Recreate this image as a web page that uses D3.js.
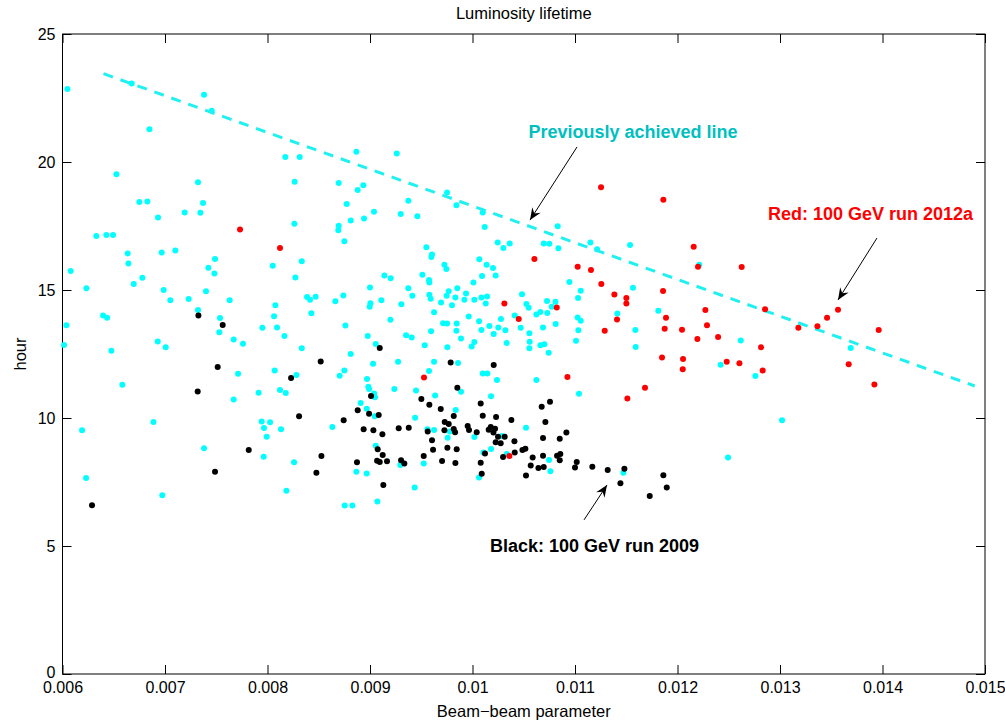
<!DOCTYPE html>
<html>
<head>
<meta charset="utf-8">
<script src="https://cdn.jsdelivr.net/npm/d3@7"></script>
<style>
  html, body { margin: 0; padding: 0; background: #fff; }
  svg text { font-family: "Liberation Sans", Arial, Helvetica, sans-serif; }
</style>
</head>
<body>
<div id="chart"></div>
<script>
// tick values and labels
const xTicks = [0.006, 0.007, 0.008, 0.009, 0.010, 0.011, 0.012, 0.013, 0.014, 0.015];
const xTickLabels = ["0.006", "0.007", "0.008", "0.009", "0.01", "0.011", "0.012", "0.013", "0.014", "0.015"];
const yTicks = [0, 5, 10, 15, 20, 25];
const yTickLabels = ["0", "5", "10", "15", "20", "25"];

// runs from other years (cyan)
const cyanPoints = [
  [0.006048,22.85],[0.006675,23.07],[0.007381,22.63],[0.007456,22.00],[0.006848,21.28],[0.006526,19.52],[0.007322,19.21],
  [0.006750,18.44],[0.006828,18.46],[0.007371,18.40],[0.006932,17.83],[0.007192,18.03],[0.007345,18.02],
  [0.008867,20.40],[0.009261,20.33],[0.008174,20.20],[0.008314,20.20],[0.008265,19.23],[0.008695,19.18],[0.008880,18.91],
  [0.008935,19.09],[0.009752,18.81],[0.009843,18.31],[0.009374,18.49],[0.008773,18.36],[0.009039,18.06],[0.009300,17.97],
  [0.009462,17.88],[0.008942,17.79],[0.008812,17.71],[0.008262,17.59],[0.008695,17.51],[0.008691,17.33],
  [0.010100,18.03],[0.010119,17.46],[0.010831,17.49],
  [0.006330,17.11],[0.006428,17.15],[0.006493,17.15],[0.006636,16.43],[0.006968,16.46],[0.007101,16.54],[0.006643,16.04],
  [0.006080,15.74],[0.007488,16.21],[0.007423,15.87],[0.007482,15.64],[0.006779,15.48],[0.006695,15.23],[0.006233,15.07],
  [0.006987,15.00],[0.007400,14.95],[0.007052,14.60],[0.007231,14.65],[0.007631,14.60],[0.007322,14.22],[0.006396,14.00],
  [0.006435,13.92],[0.007537,13.91],[0.006038,13.62],[0.007530,13.35],[0.007950,13.53],[0.007670,13.07],[0.007761,12.90],
  [0.006929,12.99],[0.006015,12.85],[0.007007,12.76],[0.006477,12.63],[0.007713,11.73],
  [0.008750,16.90],[0.008051,15.95],[0.008334,16.12],[0.008272,15.49],[0.009550,16.67],[0.009605,16.39],[0.009599,16.29],
  [0.009726,15.99],[0.009745,15.82],[0.009140,15.57],[0.009202,15.46],[0.009511,15.60],[0.009576,15.39],[0.009579,15.29],
  [0.009000,15.10],[0.009374,15.07],[0.009413,14.78],[0.009579,14.81],[0.009592,14.66],[0.009768,14.95],[0.009852,15.07],
  [0.009937,14.86],[0.009748,14.78],[0.009833,14.71],[0.009921,14.62],[0.009693,14.51],[0.009800,14.40],[0.008386,14.73],
  [0.008415,14.62],[0.008470,14.74],[0.008740,14.79],[0.008662,14.56],[0.009111,14.60],[0.009004,14.48],[0.008997,14.35],
  [0.009306,14.44],[0.008077,14.40],[0.008064,13.97],[0.008093,13.54],[0.008428,14.09],[0.009625,14.13],[0.009963,13.96],
  [0.009199,13.84],[0.009713,13.70],[0.009752,13.69],[0.009846,13.69],[0.008760,13.61],[0.009596,13.39],[0.009843,13.41],
  [0.008165,13.20],[0.008978,13.20],[0.009352,13.23],[0.009407,13.14],[0.009888,13.11],[0.009056,12.89],[0.009534,12.84],
  [0.009755,12.76],[0.008334,12.72],[0.008812,12.50],[0.009274,12.20],[0.009030,12.12],[0.009625,12.20],[0.009859,12.15],
  [0.008070,11.86],[0.008282,11.68],[0.008750,11.86],[0.008704,11.65],[0.008971,11.52],[0.009576,11.84],
  [0.010246,16.86],[0.010301,16.64],[0.010363,16.82],[0.010695,16.82],[0.010750,16.81],[0.010838,16.63],[0.011150,16.86],
  [0.011215,16.59],[0.011537,16.76],[0.010067,16.20],[0.010138,15.99],[0.010200,15.86],[0.010093,15.55],[0.010226,15.57],
  [0.010009,15.29],[0.010945,15.31],[0.011056,14.97],[0.011030,14.69],[0.011566,15.09],[0.010483,14.83],[0.010018,14.62],
  [0.010087,14.71],[0.010142,14.75],[0.010129,14.47],[0.010526,14.45],[0.010548,14.31],[0.010727,14.57],[0.010809,14.54],
  [0.010773,14.35],[0.010730,14.10],[0.010662,14.14],[0.010623,14.04],[0.010412,14.00],[0.010278,13.87],[0.010064,13.78],
  [0.010165,13.59],[0.010252,13.54],[0.010321,13.43],[0.010470,13.53],[0.010688,13.54],[0.010812,13.67],[0.010087,13.44],
  [0.010207,13.28],[0.010555,13.31],[0.011033,13.43],[0.011026,13.93],[0.011056,13.80],[0.011010,13.02],[0.011413,14.08],
  [0.011589,13.44],[0.011592,12.77],[0.011813,14.19],[0.010018,12.97],[0.009992,12.79],[0.010334,12.93],[0.010558,12.98],
  [0.010555,12.72],[0.010662,12.84],[0.010701,12.88],[0.010743,12.55],[0.010100,11.74],[0.010145,11.74],[0.010239,11.48],
  [0.010623,11.48],
  [0.012213,15.99],[0.012617,13.03],[0.013690,12.73],[0.012421,12.08],[0.012760,11.64],
  [0.006584,11.30],[0.007670,10.72],[0.007914,10.99],[0.006887,9.84],[0.006191,9.52],[0.007943,9.86],[0.007966,9.61],
  [0.007381,8.82],[0.007963,8.49],[0.006230,7.66],[0.006974,6.98],
  [0.008122,11.09],[0.008178,10.98],[0.008025,9.83],[0.008132,9.56],[0.007992,9.27],[0.008633,9.65],[0.008259,8.27],
  [0.008184,7.16],[0.008753,6.58],[0.008828,6.58],[0.009072,6.74],[0.009436,7.29],[0.008867,7.90],[0.008968,7.83],
  [0.009296,8.16],[0.009524,8.22],[0.009758,9.23],[0.009056,8.92],[0.009560,9.56],[0.009625,9.53],[0.009778,9.47],
  [0.009836,10.31],[0.009635,10.88],[0.009449,11.07],[0.009888,11.03],[0.009238,11.13],[0.008984,11.22],[0.008991,11.13],
  [0.009040,10.96],[0.009049,10.81],[0.008909,10.59],[0.008968,10.36],[0.009046,10.07],[0.009440,10.01],
  [0.010181,10.85],[0.011039,10.95],[0.010288,9.30],[0.010018,9.26],[0.010522,9.62],[0.010334,8.59],[0.010106,8.65],
  [0.010181,8.79],[0.010064,7.68],[0.010747,8.36],[0.010760,7.92],[0.011472,7.86],
  [0.013020,9.91],[0.012493,8.46]
];

// 100 GeV run 2009 (black)
const blackPoints = [
  [0.007326,14.00],[0.007563,13.63],[0.007514,11.99],
  [0.009095,12.73],[0.008519,12.21],[0.009787,12.17],[0.008230,11.56],[0.010207,12.07],
  [0.007319,11.04],[0.007817,8.75],[0.007488,7.90],[0.006288,6.59],
  [0.008308,10.07],[0.008743,9.91],[0.008526,8.52],[0.008477,7.86],[0.009130,7.38],[0.008873,8.27],[0.009069,8.33],
  [0.009095,8.28],[0.009166,8.31],[0.009303,8.35],[0.009335,8.22],[0.009524,8.52],[0.009703,8.32],[0.009833,8.24],
  [0.009615,8.76],[0.009755,8.84],[0.009846,8.78],[0.009605,9.13],[0.009075,8.78],[0.009124,8.55],[0.008938,9.56],
  [0.009033,9.52],[0.009121,9.37],[0.009280,9.60],[0.009378,9.62],[0.009563,9.47],[0.009726,9.52],[0.009817,9.57],
  [0.009830,9.44],[0.009729,9.84],[0.009768,9.77],[0.009817,10.08],[0.009690,10.35],[0.009579,10.52],[0.009501,10.74],
  [0.009852,11.18],[0.009010,10.86],[0.008880,10.30],[0.008991,10.17],[0.009085,10.12],[0.009953,9.69],[0.009966,9.53],
  [0.010080,10.57],[0.010675,10.44],[0.010756,10.63],[0.010100,10.09],[0.010230,10.04],[0.010379,9.92],[0.010711,9.84],
  [0.010041,9.44],[0.010158,9.54],[0.010178,9.65],[0.010220,9.58],[0.010204,9.43],[0.010249,9.27],[0.010314,9.27],
  [0.010226,9.05],[0.010275,9.01],[0.010409,9.09],[0.010688,9.22],[0.010851,9.19],[0.010916,9.43],[0.010487,8.75],
  [0.010516,8.80],[0.010412,8.65],[0.010298,8.48],[0.010122,8.61],[0.010080,8.25],[0.010090,7.82],[0.010587,8.46],
  [0.010688,8.53],[0.010825,8.53],[0.010857,8.59],[0.010851,8.35],[0.010568,8.14],[0.010643,8.05],[0.010695,8.09],
  [0.010522,7.75],[0.011017,8.28],[0.011000,8.07],[0.011169,8.10],[0.011319,7.97],[0.011482,8.02],[0.011443,7.45],
  [0.011729,6.95],[0.011862,7.76],[0.011895,7.29]
];

// 100 GeV run 2012a (red)
const redPoints = [
  [0.007732,17.36],[0.011254,19.01],[0.011862,18.53],[0.008122,16.64],[0.009527,11.58],
  [0.010604,16.21],[0.011026,15.91],[0.011156,15.78],[0.011257,15.23],[0.011384,14.82],[0.011501,14.69],[0.011501,14.47],
  [0.010311,14.47],[0.010822,14.32],[0.010451,13.87],[0.011410,13.85],[0.011290,13.41],[0.011859,14.96],[0.011888,13.92],
  [0.011875,13.49],[0.011849,12.36],[0.010926,11.60],
  [0.012158,16.69],[0.012200,15.91],[0.012626,15.90],[0.012272,14.22],[0.012854,14.25],[0.013566,14.23],[0.013459,13.92],
  [0.013365,13.58],[0.013179,13.53],[0.013963,13.44],[0.012044,13.45],[0.012288,13.62],[0.012194,13.09],[0.012396,13.16],
  [0.012815,12.76],[0.013670,12.10],[0.012054,12.30],[0.012051,11.90],[0.012480,12.20],[0.012604,12.14],[0.012831,11.86],
  [0.011511,10.76],[0.011683,11.18],[0.010360,8.52],[0.013921,11.31]
];

// "previously achieved" line end points
const achievedLine = [[0.0064, 23.45], [0.0149, 11.25]];

// annotations: text anchor point and arrow [from, to]
const annotations = [
  { text: "Previously achieved line", color: "#00bfbf", at: [0.011566, 21.17], anchor: "middle",
    arrow: [[0.011020, 20.59], [0.010561, 17.73]] },
  { text: "Red: 100 GeV run 2012a", color: "#ff0000", at: [0.012883, 17.97], anchor: "start",
    arrow: [[0.013946, 17.03], [0.013566, 14.61]] },
  { text: "Black: 100 GeV run 2009", color: "#000000", at: [0.010171, 5.0], anchor: "start",
    arrow: [[0.011088, 6.02], [0.011312, 7.38]] }
];

const W = 1005, H = 722;
const plot = { left: 62.5, right: 985, top: 34, bottom: 674 };

const svg = d3.select("#chart").append("svg")
  .attr("width", W)
  .attr("height", H);

svg.append("rect").attr("width", W).attr("height", H).attr("fill", "#fff");

const x = d3.scaleLinear().domain([0.006, 0.015]).range([plot.left, plot.right]);
const y = d3.scaleLinear().domain([0, 25]).range([plot.bottom, plot.top]);

// axes, ticks point inwards like matlab
const tickLen = 9;
const xAxis = svg.append("g")
  .attr("transform", `translate(0,${plot.bottom})`)
  .call(d3.axisBottom(x).tickValues(xTicks).tickSizeInner(-tickLen).tickSizeOuter(0).tickPadding(8)
    .tickFormat((d, i) => xTickLabels[i]));
const xAxisTop = svg.append("g")
  .attr("transform", `translate(0,${plot.top})`)
  .call(d3.axisTop(x).tickValues(xTicks).tickSizeInner(-tickLen).tickSizeOuter(0).tickFormat(""));
const yAxis = svg.append("g")
  .attr("transform", `translate(${plot.left},0)`)
  .call(d3.axisLeft(y).tickValues(yTicks).tickSizeInner(-tickLen).tickSizeOuter(0).tickPadding(7)
    .tickFormat((d, i) => yTickLabels[i]));
const yAxisRight = svg.append("g")
  .attr("transform", `translate(${plot.right},0)`)
  .call(d3.axisRight(y).tickValues(yTicks).tickSizeInner(-tickLen).tickSizeOuter(0).tickFormat(""));

[xAxis, xAxisTop, yAxis, yAxisRight].forEach(g => {
  g.select(".domain").remove();
  g.selectAll(".tick line").attr("stroke", "#000").attr("stroke-width", 1);
  g.selectAll(".tick text").attr("fill", "#000").style("font-size", "16px");
});
// lift the "0" on the y axis a little so it clears the first x label
yAxis.selectAll(".tick text").filter((d) => d === 0).attr("dy", "0.2em");

// box
svg.append("rect")
  .attr("x", plot.left).attr("y", plot.top)
  .attr("width", plot.right - plot.left).attr("height", plot.bottom - plot.top)
  .attr("fill", "none").attr("stroke", "#000").attr("stroke-width", 1);

// points
const drawPoints = (data, color) => {
  svg.append("g").selectAll("circle")
    .data(data)
    .join("circle")
    .attr("cx", d => x(d[0]))
    .attr("cy", d => y(d[1]))
    .attr("r", 3)
    .attr("fill", color);
};
drawPoints(cyanPoints, "#00ffff");

// dashed line
svg.append("path")
  .datum(achievedLine)
  .attr("d", d3.line().x(d => x(d[0])).y(d => y(d[1])))
  .attr("fill", "none")
  .attr("stroke", "#22f0f0")
  .attr("stroke-width", 3)
  .attr("stroke-dasharray", "10,8");

drawPoints(blackPoints, "#000000");
drawPoints(redPoints, "#ff0000");

// annotations
annotations.forEach(a => {
  const [p0, p1] = a.arrow.map(p => [x(p[0]), y(p[1])]);
  svg.append("line")
    .attr("x1", p0[0]).attr("y1", p0[1])
    .attr("x2", p1[0]).attr("y2", p1[1])
    .attr("stroke", "#000").attr("stroke-width", 1);
  const ang = Math.atan2(p1[1] - p0[1], p1[0] - p0[0]) * 180 / Math.PI;
  svg.append("path")
    .attr("d", "M0,0 L-12,-5 L-8,0 L-12,5 Z")
    .attr("transform", `translate(${p1[0]},${p1[1]}) rotate(${ang})`)
    .attr("fill", "#000");

  svg.append("text")
    .attr("x", x(a.at[0]))
    .attr("y", y(a.at[1]))
    .attr("dy", "0.35em")
    .attr("text-anchor", a.anchor)
    .style("font-size", "18px")
    .style("font-weight", "bold")
    .attr("fill", a.color)
    .text(a.text);
});

// title and axis labels
svg.append("text")
  .attr("x", (plot.left + plot.right) / 2).attr("y", 19)
  .attr("text-anchor", "middle")
  .style("font-size", "16.5px")
  .text("Luminosity lifetime");

svg.append("text")
  .attr("x", (plot.left + plot.right) / 2).attr("y", 717)
  .attr("text-anchor", "middle")
  .style("font-size", "16.5px")
  .text("Beam\u2212beam parameter");

svg.append("text")
  .attr("transform", `translate(26,${(plot.top + plot.bottom) / 2}) rotate(-90)`)
  .attr("text-anchor", "middle")
  .style("font-size", "16.5px")
  .text("hour");
</script>
</body>
</html>
